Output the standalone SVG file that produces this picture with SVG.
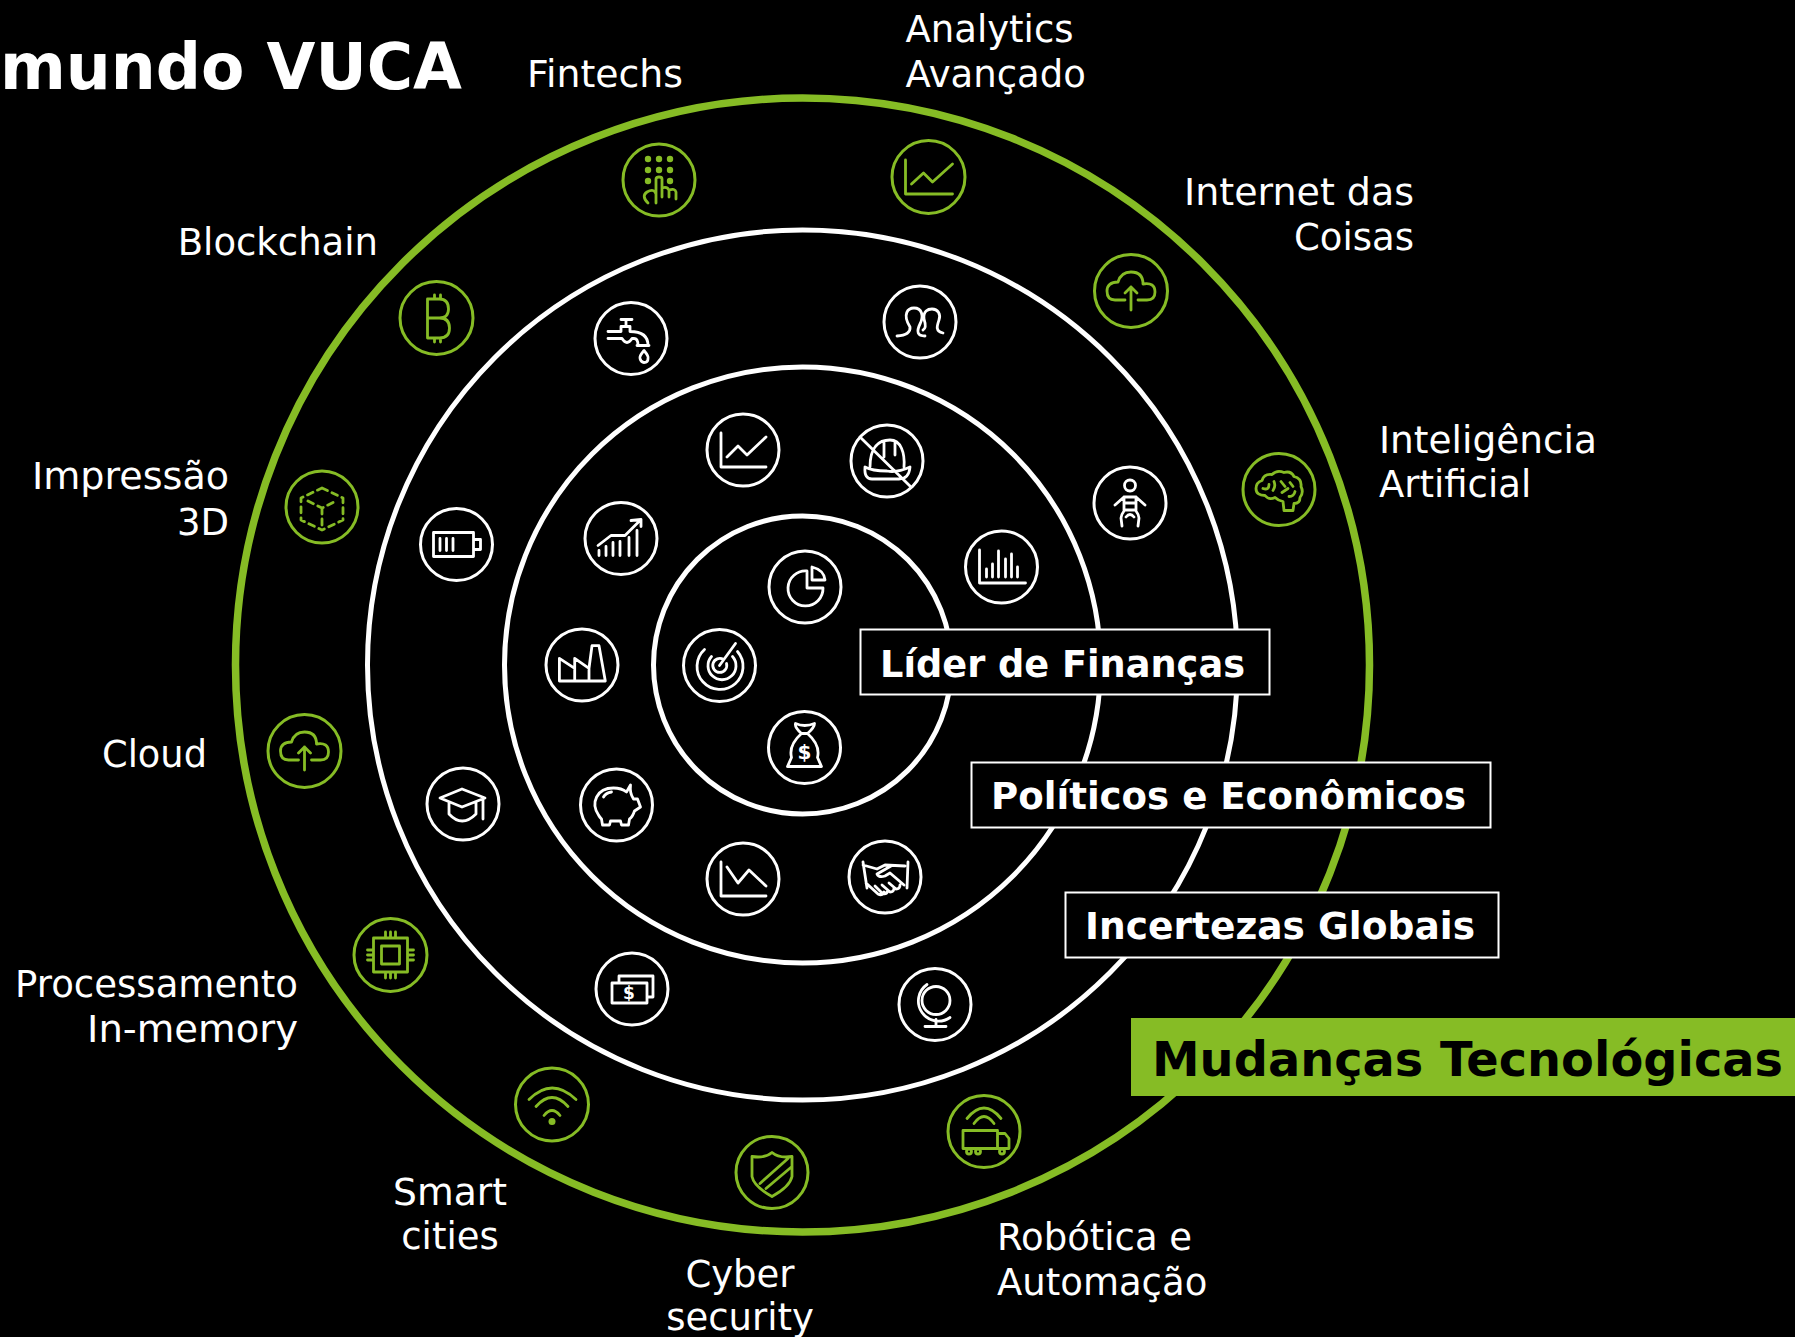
<svg xmlns="http://www.w3.org/2000/svg" width="1795" height="1337" viewBox="0 0 1795 1337">
<style>
text{font-family:"DejaVu Sans","Liberation Sans",sans-serif;fill:#fff}
.lbl{font-size:37px}
.b{font-size:37px;font-weight:700}
.e{text-anchor:end}
.m{text-anchor:middle}
.ring{fill:none;stroke:#fff;stroke-width:5}
.w circle.o,.g circle.o{fill:#000;stroke-width:3}
.w .i,.g .i{fill:none;stroke-width:2.8;stroke-linecap:round;stroke-linejoin:round}
.w circle.o,.w .i{stroke:#fff}
.g circle.o,.g .i{stroke:#86bc25}
.w .f{fill:#fff;stroke:none}
.g .f{fill:#86bc25;stroke:none}
.box{fill:#000;stroke:#fff;stroke-width:2}
.d{font-weight:700;font-size:17px;text-anchor:middle}
</style>
<rect width="1795" height="1337" fill="#000"/>
<g id="rings">
<circle cx="802.5" cy="665" r="567" fill="none" stroke="#86bc25" stroke-width="7.5"/>
<circle class="ring" cx="802.5" cy="665" r="435"/>
<circle class="ring" cx="802.5" cy="665" r="298"/>
<circle class="ring" cx="802.5" cy="665" r="149"/>
</g>
<text x="0" y="89" font-size="63.500" font-weight="700" textLength="462" lengthAdjust="spacingAndGlyphs">mundo VUCA</text>

<g id="fintechs" class="g" transform="translate(659,180)"><circle class="o" r="36"/>
<g class="f"><circle cx="-11" cy="-21" r="3.200"/><circle cy="-21" r="3.200"/><circle cx="11" cy="-21" r="3.200"/><circle cx="-11" cy="-10" r="3.200"/><circle cy="-10" r="3.200"/><circle cx="11" cy="-10" r="3.200"/><circle cx="-11" cy="1" r="3.200"/><circle cx="11" cy="1" r="3.200"/></g>
<path class="i" d="M-11,23Q-18,16-12,12Q-5,8-3,14L-3,-1Q-3,-3 0,-3Q3,-3 3,-1L3,17M-3,14Q-3,19-3,23M3,8Q8,6 10,10L10,17M10,10Q16,8 17,12L17,19"/></g>

<g id="analytics" class="g" transform="translate(928.5,177)"><circle class="o" r="36.500"/>
<path class="i" d="M-23,-17V17H24M-17,7L-5,-4L4,5L24,-13"/></g>

<g id="iot" class="g" transform="translate(1131,291)"><circle class="o" r="36.500"/>
<path class="i" d="M0,19V-4M-6,2L0,-4L6,2M-6,9H-16Q-24,9-24,0Q-24,-9-13,-9Q-10,-19 0,-19Q12,-19 12,-7Q24,-9 24,1Q24,9 16,9H7"/></g>

<g id="ia" class="g" transform="translate(1279,489.500)"><circle class="o" r="36"/>
<path class="i" d="M5,21L4,12Q-1,11-4,8Q-10,11-14,6Q-23,6-23,-1Q-23,-7-17,-9Q-15,-16-7,-15Q-2,-20 5,-17Q12,-19 15,-13Q23,-11 22,-3Q25,3 21,8Q21,14 15,14L14,21ZM-16,-1Q-10,1-10,-5M-5,-8Q-3,-3-6,1M2,-8L6,-3M3,3L9,-1M11,-7L14,-3M10,7Q15,7 16,2"/></g>

<g id="blockchain" class="g" transform="translate(436.500,318)"><circle class="o" r="36.500"/>
<path class="i" d="M-9,-19V20M-9,-19H3Q12,-19 12,-9Q12,0 3,0H-9M3,0Q13,0 13,10Q13,20 3,20H-9M-2,-23V-19M4,-23V-19M-2,20V24M4,20V24"/></g>

<g id="impressao" class="g" transform="translate(322,507)"><circle class="o" r="36"/>
<path class="i" stroke-dasharray="6 5" d="M0,-19L21,-9V13L0,23L-21,13V-9ZM-14,-6L0,1L14,-6M0,1V20"/></g>

<g id="cloud" class="g" transform="translate(304.500,751)"><circle class="o" r="36.500"/>
<path class="i" d="M0,19V-4M-6,2L0,-4L6,2M-6,9H-16Q-24,9-24,0Q-24,-9-13,-9Q-10,-19 0,-19Q12,-19 12,-7Q24,-9 24,1Q24,9 16,9H7"/></g>

<g id="memory" class="g" transform="translate(390.500,955)"><circle class="o" r="36.500"/>
<path class="i" d="M-17,-17H17V17H-17ZM-9,-9H9V9H-9ZM-5,-23V-17M0,-23V-17M5,-23V-17M-5,17V23M0,17V23M5,17V23M-23,-5H-17M-23,0H-17M-23,5H-17M17,-5H23M17,0H23M17,5H23"/></g>

<g id="smart" class="g" transform="translate(552,1104.500)"><circle class="o" r="36.500"/>
<path class="i" d="M-23,-5Q0,-28 24,-5M-16,2Q0,-16 16,2M-8,11Q0,1 8,11"/><circle class="f" cy="17" r="3.500"/></g>

<g id="cyber" class="g" transform="translate(772,1172.500)"><circle class="o" r="36"/>
<path class="i" d="M-20,-16Q-7,-14 0,-20Q7,-14 20,-16V4Q18,14 0,24Q-18,14-20,4ZM-12,11L16,-14M-6,16L20,-6"/></g>

<g id="robotica" class="g" transform="translate(984,1131.500)"><circle class="o" r="36"/>
<path class="i" d="M-21,-1H13.500V17H-21ZM13.500,2H21L25,7V17H13.500M-17,-13Q0,-34 17,-13M-10,-8Q0,-22 10,-8"/><circle class="i" cx="-15" cy="20" r="2.500"/><circle class="i" cx="-6" cy="20" r="2.500"/><circle class="i" cx="18" cy="20" r="2.500"/></g>

<g id="tap" class="w" transform="translate(631,338.500)"><circle class="o" r="36"/>
<path class="i" d="M-10,-19H1M-5,-19V-12M-23,-7H-10V-12H-1V-7Q17,-7 17,7M-23,0H-9Q-4,8 1,0H3Q7,0 7,7M6,7H18M13,12Q8,18 9,20Q10,24 13,24Q17,24 17,20Q18,18 13,12Z"/></g>

<g id="heads" class="w" transform="translate(920,322)"><circle class="o" r="36"/>
<path class="i" d="M-23,14Q-9,13-10,5C-18,-8-12,-14-6,-14C2,-14 4,-6 0,2Q-6,14 5,14M3,8Q7,6 4,-3C3,-11 8,-13 12,-13C18,-13 21,-8 19,-2C17,4 15,9 23,11"/></g>

<g id="baby" class="w" transform="translate(1130,503)"><circle class="o" r="36"/>
<circle class="i" cy="-17.500" r="5.500"/>
<path class="i" d="M-15,2L-6,-6H6L15,2M-6,-6V7M6,-6V7M-6,0H6M-6,7H6M-6,8Q-9,12-9,15L-8,23M6,8Q9,12 9,15L8,23M-4,14Q0,9 4,14"/></g>

<g id="bars" class="w" transform="translate(1001.500,567)"><circle class="o" r="36"/>
<path class="i" d="M-22,-17V16H24M-15,2V10M-9,-3V10M-3,-16V10M4,-8V10M10,-13V10M16,0V10"/></g>

<g id="helmet" class="w" transform="translate(887,461)"><circle class="o" r="36"/>
<path class="i" d="M-17,6C-17,-14-8,-21 3,-21C14,-21 18,-8 17,6M-22,6Q-23,18-15,18H12Q22,18 23,6Q10,12 0,10Q-15,10-22,6ZM-3,-4V-19M8,-6V-19M-27,-24L24,26"/></g>

<g id="line" class="w" transform="translate(743,450)"><circle class="o" r="36"/>
<path class="i" d="M-22,-17V17H23M-16,7L-5,-4L4,5L23,-13"/></g>

<g id="battery" class="w" transform="translate(456.500,544.500)"><circle class="o" r="36"/>
<path class="i" d="M-23,-12H17V12H-23ZM17,-5H24V5H17M-16.500,-6V6M-10,-6V6M-3.500,-6V6"/></g>

<g id="growth" class="w" transform="translate(621,538.500)"><circle class="o" r="36"/>
<path class="i" d="M-23,7L-10,-3H4L20,-19M10,-18L20,-19V-12M-22,12V17M-15,8V17M-8,4V17M-1,3V17M8,-1V17M16,-8V17"/></g>

<g id="pie" class="w" transform="translate(805,587)"><circle class="o" r="36"/>
<path class="i" d="M2,-16A17.500,17.500 0 1 0 18,1H2ZM7,-20V-7H20Q19,-17 7,-20Z"/></g>

<g id="factory" class="w" transform="translate(582,665)"><circle class="o" r="36"/>
<path class="i" d="M-22.600,16V-6.700L-7.300,3.300V-6.700L7,3.300L10,-19.300H17L23.300,16ZM-7.300,3.300V16M7,3.300V16"/></g>

<g id="radar" class="w" transform="translate(719.500,665.500)"><circle class="o" r="36"/>
<path class="i" d="M-15,-16A23,23 0 1 0 18,-14M-8,-9A14,14 0 1 0 13,-9M4,-6A7,7 0 1 0 7,-2M0,0L16,-22"/></g>

<g id="bag" class="w" transform="translate(804.500,747.500)"><circle class="o" r="36"/>
<path class="i" d="M-3,-14Q-10,-20-9,-24Q0,-20 10,-24Q10,-20 3,-14ZM-3,-14C-12,-6-15,2-13,10L-17,19H17L13,10C15,2 12,-6 3,-14"/>
<text class="d" x="0" y="11" style="font-size:20px">$</text></g>

<g id="grad" class="w" transform="translate(463,804)"><circle class="o" r="36"/>
<path class="i" d="M-23,-6L-1,-15L22,-6L-1,3ZM-14,-2V10Q-1,24 13,10V-2M20,-6V15"/></g>

<g id="piggy" class="w" transform="translate(616.500,805)"><circle class="o" r="36"/>
<path class="i" d="M-18,10C-26,-2-20,-17-3,-17Q5,-17 10,-13L14,-20Q13,-12 17,-6L21,-6L24,2L18,6Q16,12 13,14L12,20H5L4,16H-6L-7,20H-14L-15,14Q-17,12-18,10ZM-13,-8Q-11,-12-5,-13"/></g>

<g id="down" class="w" transform="translate(743,879)"><circle class="o" r="36"/>
<path class="i" d="M-22,-17V17H23M-16,-12L-5,4L6,-9L23,7"/></g>

<g id="hands" class="w" transform="translate(885,877)"><circle class="o" r="36"/>
<path class="i" d="M-22,-15L-18,11M23,-15L22,11M-22,-12L-8,-8L0,-12L20,-11M6,-11L-8,-3Q-6,1 0,-1L5,-4L19,8M-19,6L-7,17Q-3,19-1,15M-10,9L-3,16Q1,18 3,14M-3,8L5,15Q9,15 9,11M4,6L11,12Q15,12 15,8"/></g>

<g id="money" class="w" transform="translate(632,989)"><circle class="o" r="36"/>
<path class="i" d="M-13,-6V-13H21V8H15M-20,-6H15V14H-20Z"/>
<text class="d" x="-3" y="10">$</text></g>

<g id="globe" class="w" transform="translate(935,1004.500)"><circle class="o" r="36"/>
<circle class="i" cx="1" cy="-4" r="14"/>
<path class="i" d="M-8,-20A19,19 0 0 0 15,13M1,15V22M-10,22H11"/></g>

<g id="lider"><rect class="box" x="860.500" y="629.500" width="409" height="65"/><text class="b" x="880" y="677" textLength="365" lengthAdjust="spacingAndGlyphs">Líder de Finanças</text></g>
<g id="politicos"><rect class="box" x="971.500" y="762.500" width="519" height="65"/><text class="b" x="991" y="809" textLength="475" lengthAdjust="spacingAndGlyphs">Políticos e Econômicos</text></g>
<g id="incertezas"><rect class="box" x="1065.500" y="892.500" width="433" height="65"/><text class="b" x="1085" y="939" textLength="390" lengthAdjust="spacingAndGlyphs">Incertezas Globais</text></g>
<g id="mudancas"><rect x="1131" y="1018" width="664" height="78" fill="#86bc25"/><text x="1152" y="1076" font-size="48" font-weight="700" textLength="631" lengthAdjust="spacingAndGlyphs" style="fill:#000">Mudanças Tecnológicas</text></g>

<g id="labels" class="lbl">
<text x="905.500" y="42">Analytics</text><text x="905.500" y="87">Avançado</text>
<text x="527" y="87" textLength="156" lengthAdjust="spacingAndGlyphs">Fintechs</text>
<text class="e" x="1414" y="205" textLength="230" lengthAdjust="spacingAndGlyphs">Internet das</text><text class="e" x="1414" y="250">Coisas</text>
<text class="e" x="378" y="255">Blockchain</text>
<text x="1379" y="453" textLength="218" lengthAdjust="spacingAndGlyphs">Inteligência</text><text x="1379" y="497">Artificial</text>
<text class="e" x="229" y="489" textLength="197" lengthAdjust="spacingAndGlyphs">Impressão</text><text class="e" x="229" y="535">3D</text>
<text class="e" x="207" y="767" textLength="105" lengthAdjust="spacingAndGlyphs">Cloud</text>
<text class="e" x="298" y="997" textLength="283" lengthAdjust="spacingAndGlyphs">Processamento</text><text class="e" x="298" y="1042" textLength="211" lengthAdjust="spacingAndGlyphs">In-memory</text>
<text class="m" x="450" y="1205" textLength="114" lengthAdjust="spacingAndGlyphs">Smart</text><text class="m" x="450" y="1249">cities</text>
<text class="m" x="740" y="1287">Cyber</text><text class="m" x="740" y="1330">security</text>
<text x="997" y="1250">Robótica e</text><text x="997" y="1295">Automação</text>
</g>
</svg>
